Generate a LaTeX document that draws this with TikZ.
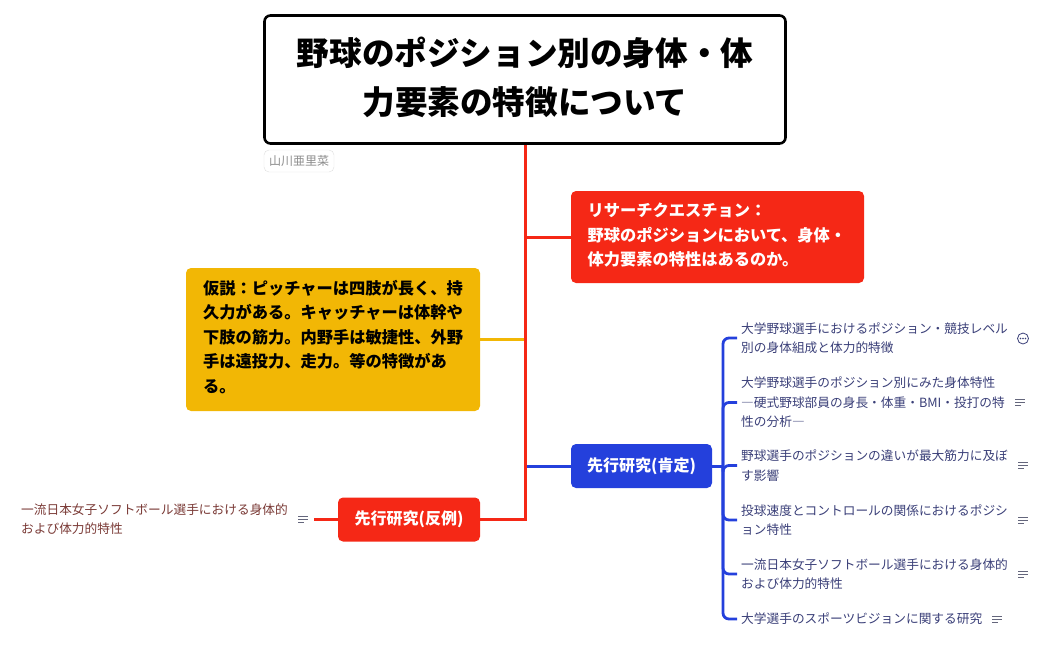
\documentclass[tikz,border=0pt]{standalone}
\usepackage{fontspec}
\setmainfont{Noto Sans CJK JP}
\definecolor{topicred}{HTML}{F52816}
\definecolor{topicyel}{HTML}{F2B705}
\definecolor{topicblu}{HTML}{2440DC}
\definecolor{itemblu}{HTML}{3A3F78}
\definecolor{itembrn}{HTML}{7A3A36}
\tikzset{
  topic/.style={rounded corners=5pt,align=left,text=white,font=\bfseries\fontsize{16.25}{24.5}\selectfont,inner sep=0pt},
  nudge/.style={execute at end node={\par\vspace{#1}}},
  item/.style={align=left,anchor=west,inner sep=0pt,font=\fontsize{12.7}{19.5}\selectfont},
  notes/.pic={\draw[gray!60!itemblu,line width=.9pt] (-5,-3)--(5,-3) (-5,0)--(5,0) (-5,3)--(1,3);},
  more/.pic={\draw[itemblu,line width=.8pt] (0,0) circle (5.5); \foreach \i in {-2.5,0,2.5}{\fill[itemblu] (\i,0) circle (.9);}}
}
\begin{document}
\begin{tikzpicture}[x=1pt,y=-1pt]
\useasboundingbox (0,0) rectangle (1050,649);
\node(title) at (525,79.5) [draw,line width=2.6pt,rounded corners=6pt,minimum width=521,minimum height=128,text width=480,nudge=4pt,align=center,font=\bfseries\fontsize{32.6}{49}\selectfont] {野球のポジション別の身体・体\\力要素の特徴について};
\node(author) at (299,161) [draw=black!13,rounded corners=5pt,minimum width=70,minimum height=22,inner sep=0pt,text=black!45,font=\fontsize{12}{14}\selectfont] {山川亜里菜};
\node(ask) at (717.5,237) [topic,fill=topicred,text width=260,minimum height=92,inner xsep=16.5pt,nudge=4pt] {リサーチクエスチョン：\\野球のポジションにおいて、身体・\\体力要素の特性はあるのか。};
\node(hypo) at (333,339.5) [topic,fill=topicyel,text=black,text width=260,minimum height=143,inner xsep=17pt,nudge=5pt] {仮説：ピッチャーは四肢が長く、持\\久力がある。キャッチャーは体幹や\\下肢の筋力。内野手は敏捷性、外野\\手は遠投力、走力。等の特徴があ\\る。};
\node(pro) at (641.5,466) [topic,fill=topicblu,minimum width=141,minimum height=44,align=center,font=\bfseries\fontsize{16}{24.5}\selectfont] {先行研究(肯定)};
\node(con) at (409,519.5) [topic,fill=topicred,minimum width=142,minimum height=44,align=center,font=\bfseries\fontsize{16}{24.5}\selectfont] {先行研究(反例)};
% trunk
\draw[topicyel,line width=2.6pt] (hypo.east)--(525,339.5);
\draw[topicblu,line width=3pt] (pro.west)--(525,466);
\draw[topicred,line width=3pt] (title.south)--(525,237)--(ask.west);
\draw[topicred,line width=3pt] (title.south)|-(con.east);
% items
\coordinate(hub) at (723,466);
\node[item,text=itemblu](i1) at (741,338) {大学野球選手におけるポジション・競技レベル\\別の身体組成と体力的特徴};
\node[item,text=itemblu](i2) at (741,402.5) {大学野球選手のポジション別にみた身体特性\\―硬式野球部員の身長・体重・BMI・投打の特\\性の分析―};
\node[item,text=itemblu](i3) at (741,465.5) {野球選手のポジションの違いが最大筋力に及ぼ\\す影響};
\node[item,text=itemblu](i4) at (741,520) {投球速度とコントロールの関係におけるポジシ\\ョン特性};
\node[item,text=itemblu](i5) at (741,574) {一流日本女子ソフトボール選手における身体的\\および体力的特性};
\node[item,text=itemblu](i6) at (741,619) {大学選手のスポーツビジョンに関する研究};
\draw[topicblu,line width=3pt] (pro.east)--(hub);
\foreach \n in {i1,i2,i3,i4,i5,i6}{
\draw[topicblu,line width=2.8pt,rounded corners=6pt] (hub)|-([xshift=-4pt]\n.west);
}
\pic at (1023,338.5) {more};
\pic at (1020,402) {notes};
\pic at (1023,465.5) {notes};
\pic at (1023,520) {notes};
\pic at (1023,574) {notes};
\pic at (997,619) {notes};
% counter example
\node[item,text=itembrn](j1) at (21,519) {一流日本女子ソフトボール選手における身体的\\および体力的特性};
\coordinate(jend) at (314,519.5);
\draw[topicred,line width=2.6pt] (con.west)--(jend);
\pic at (303,519) {notes};
\end{tikzpicture}
\end{document}
